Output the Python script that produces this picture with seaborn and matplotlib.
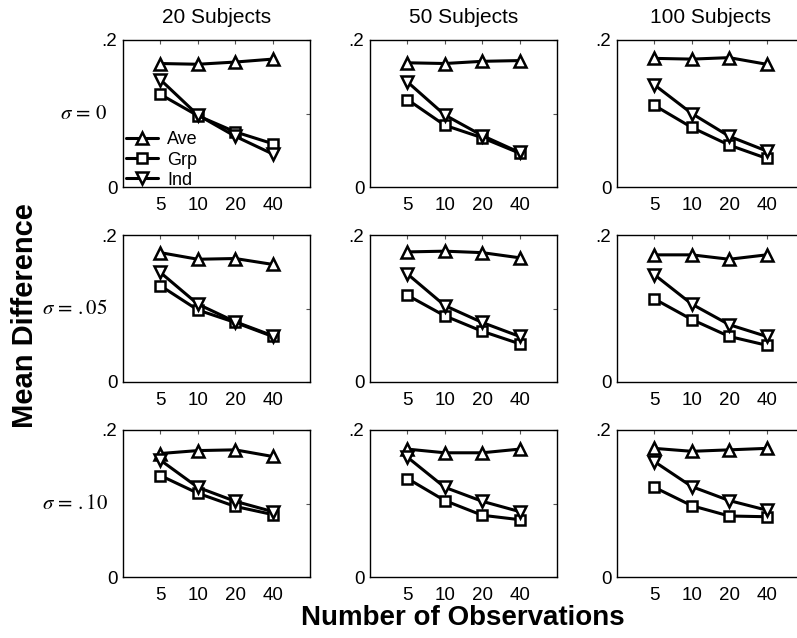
import matplotlib
matplotlib.use("Agg")
import matplotlib.pyplot as plt
import seaborn as sns
import pandas as pd
from matplotlib.ticker import FixedLocator, NullLocator, FixedFormatter
from matplotlib.transforms import blended_transform_factory

# ---------------- data ----------------
observations = [5, 10, 20, 40]
subjects = [20, 50, 100]
column_titles = ["20 Subjects", "50 Subjects", "100 Subjects"]
sigma_labels = [r"$\sigma\,=\,0$", r"$\sigma\,=\,.05$", r"$\sigma\,=\,.10$"]
methods = ["Ave", "Grp", "Ind"]

# rows: 20, 50, 100 subjects ; columns: 5, 10, 20, 40 observations
ave_sigma0 = [[0.168, 0.167, 0.170, 0.174],
              [0.169, 0.168, 0.171, 0.172],
              [0.175, 0.174, 0.176, 0.167]]
grp_sigma0 = [[0.126, 0.097, 0.075, 0.059],
              [0.119, 0.084, 0.067, 0.046],
              [0.111, 0.081, 0.057, 0.039]]
ind_sigma0 = [[0.146, 0.098, 0.069, 0.045],
              [0.143, 0.098, 0.070, 0.047],
              [0.139, 0.100, 0.069, 0.049]]

ave_sigma05 = [[0.176, 0.167, 0.168, 0.160],
               [0.177, 0.178, 0.176, 0.169],
               [0.173, 0.173, 0.167, 0.173]]
grp_sigma05 = [[0.131, 0.098, 0.081, 0.062],
               [0.118, 0.090, 0.069, 0.052],
               [0.113, 0.085, 0.062, 0.050]]
ind_sigma05 = [[0.149, 0.106, 0.082, 0.063],
               [0.147, 0.104, 0.081, 0.062],
               [0.146, 0.106, 0.078, 0.062]]

ave_sigma10 = [[0.168, 0.172, 0.173, 0.164],
               [0.174, 0.169, 0.169, 0.174],
               [0.175, 0.171, 0.173, 0.175]]
grp_sigma10 = [[0.138, 0.114, 0.096, 0.085],
               [0.134, 0.104, 0.084, 0.078],
               [0.122, 0.097, 0.083, 0.082]]
ind_sigma10 = [[0.159, 0.122, 0.103, 0.089],
               [0.163, 0.122, 0.103, 0.089],
               [0.157, 0.123, 0.104, 0.091]]

panel_data = [
    {"Ave": ave_sigma0, "Grp": grp_sigma0, "Ind": ind_sigma0},
    {"Ave": ave_sigma05, "Grp": grp_sigma05, "Ind": ind_sigma05},
    {"Ave": ave_sigma10, "Grp": grp_sigma10, "Ind": ind_sigma10},
]

# ---------------- style ----------------
sns.set_theme(style="white")
plt.rcParams["font.family"] = ["Liberation Sans", "DejaVu Sans"]
plt.rcParams["mathtext.fontset"] = "stix"
plt.rcParams["text.color"] = "black"
plt.rcParams["xtick.labelcolor"] = "black"
plt.rcParams["ytick.labelcolor"] = "black"

marker_for = {"Ave": "^", "Grp": "s", "Ind": "v"}
msize_for = {"Ave": 9, "Grp": 7, "Ind": 9}

fig = plt.figure(figsize=(7.97, 6.38), dpi=100)

W, H = 797.0, 638.0
col_left = [123, 370, 617]
row_top = [40, 235, 430]
ax_w, ax_h = 187, 147

for r in range(3):
    for c in range(3):
        ax = fig.add_axes([col_left[c] / W, 1 - (row_top[r] + ax_h) / H, ax_w / W, ax_h / H])
        for m in methods:
            df = pd.DataFrame({"obs": observations, "val": panel_data[r][m][c]})
            sns.lineplot(data=df, x="obs", y="val", ax=ax, color="black",
                         linewidth=2.2, marker=marker_for[m], markersize=msize_for[m],
                         markerfacecolor="white", markeredgecolor="black",
                         markeredgewidth=1.8, label=m if (r == 0 and c == 0) else None,
                         legend=False)
        ax.set_xscale("log", base=2)
        ax.set_xlim(2.5, 80)
        ax.set_ylim(0, 0.2)
        ax.xaxis.set_major_locator(FixedLocator(observations))
        ax.xaxis.set_major_formatter(FixedFormatter([str(o) for o in observations]))
        ax.xaxis.set_minor_locator(NullLocator())
        ax.yaxis.set_major_locator(FixedLocator([0, 0.1, 0.2]))
        ax.yaxis.set_major_formatter(FixedFormatter(["0", "", ".2"]))
        ax.set_xlabel("")
        ax.set_ylabel("")
        ax.tick_params(axis="both", which="both", direction="in", length=3, width=0.8,
                       color="#555555", top=True, right=True, labelsize=13.5,
                       labelcolor="black")
        ax.tick_params(axis="x", pad=7)
        ax.tick_params(axis="y", pad=4)
        for s in ax.spines.values():
            s.set_visible(True)
            s.set_color("black")
            s.set_linewidth(1.0)
        if r == 0:
            ax.set_title(column_titles[c], fontsize=15, pad=12, color="black")
        if c == 0:
            trans = blended_transform_factory(ax.transAxes, ax.transData)
            ax.text(-0.08, 0.1, sigma_labels[r], transform=trans, ha="right",
                    va="center", fontsize=15, color="black")
        if r == 0 and c == 0:
            ax.legend(loc="lower left", bbox_to_anchor=(0.015, -0.012), frameon=False,
                      fontsize=13, handlelength=1.8, handletextpad=0.5,
                      labelspacing=0.18, borderaxespad=0.0, borderpad=0.0,
                      labelcolor="black")

fig.text(463 / W, 1 - 618 / H, "Number of Observations", ha="center", va="center",
         fontsize=20, fontweight="bold", color="black")
fig.text(25 / W, 1 - 316 / H, "Mean Difference", ha="center", va="center",
         rotation=90, fontsize=21, fontweight="bold", color="black")

fig.savefig("out.png", dpi=100)
